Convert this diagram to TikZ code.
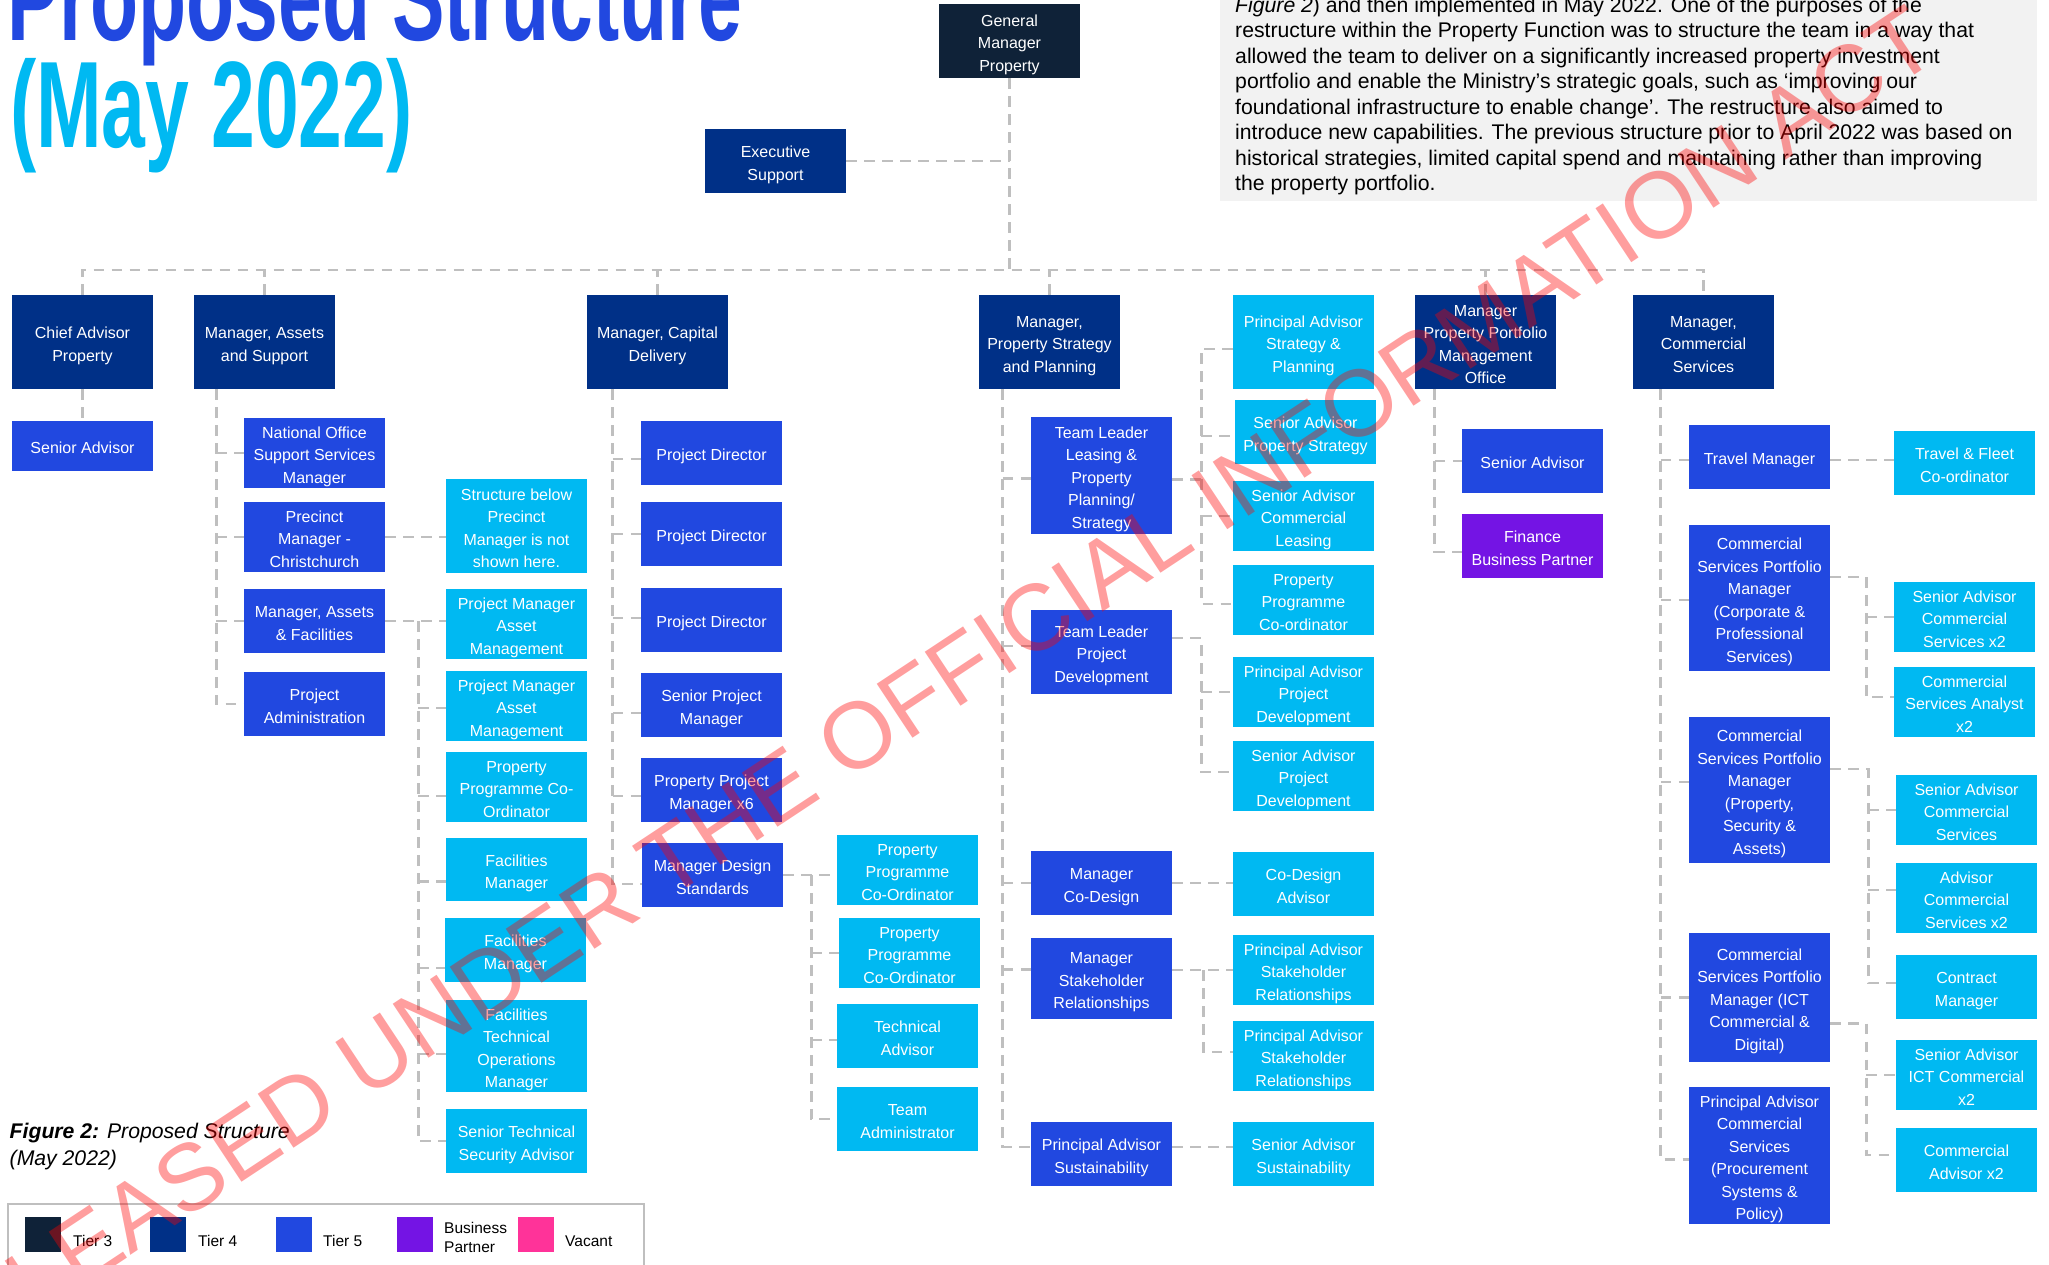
\documentclass[tikz,border=0pt]{standalone}
\usepackage{fontspec}
\setmainfont{Liberation Sans}
\usepackage{graphicx}

\definecolor{tierthree}{HTML}{0F2238}
\definecolor{tierfour}{HTML}{003087}
\definecolor{tierfive}{HTML}{2148E0}
\definecolor{tiercyan}{HTML}{00B9F2}
\definecolor{partner}{HTML}{7414E4}
\definecolor{vacant}{HTML}{FF3399}
\definecolor{linkgray}{HTML}{BFBFBF}
\definecolor{panelgray}{HTML}{F2F2F2}

\pgfdeclarelayer{links}
\pgfsetlayers{links,main}

\newcommand\orgfont{\fontsize{16}{22.5}\selectfont}
\newcommand\parafont{\fontsize{21.2}{25.5}\selectfont}
% struts that keep every label block at the same optical centre
\newcommand\topstrut{\rule{0pt}{20pt}}
\newcommand\botstrut{\rule[-4.5pt]{0pt}{0pt}}
% box: name, style, x1, y1, x2, y2 (pixel frame, y downwards), text
\newcommand\orgbox[7]{\node[#2, minimum width={((#5)-(#3))*1pt}, minimum height={((#6)-(#4))*1pt}] (#1) at ({((#3)+(#5))/2},{((#4)+(#6))/2}) {\topstrut#7\botstrut};}
% horizontal stub from a trunk to a child box
\newcommand\branch[3]{\path ([yshift=#3]#2.west) coordinate (bp#2); \draw[conn] (#1 |- bp#2) -- (bp#2);}
% trunk from its top point down to the last child
\newcommand\trunk[3]{\path ([yshift=#3]#2.west) coordinate (bl#2); \draw[conn] (#1) |- (bl#2);}

\begin{document}
\begin{tikzpicture}[x=1pt, y=-1pt,
  box/.style={inner sep=0pt, align=center, text=white, font=\orgfont},
  tthree/.style={box, fill=tierthree},
  tfour/.style={box, fill=tierfour},
  tfive/.style={box, fill=tierfive},
  tcyan/.style={box, fill=tiercyan},
  tpartner/.style={box, fill=partner},
  conn/.style={draw=linkgray, line width=2.7pt, dash pattern=on 10.5pt off 7.5pt},
  para/.style={anchor=base west, inner sep=0pt, font=\parafont},
  legsq/.style={inner sep=0pt, minimum width=36pt, minimum height=35pt},
  leglab/.style={anchor=base west, inner sep=0pt, font=\fontsize{15.5}{19}\selectfont}]
\useasboundingbox (0,0) rectangle (2049,1264);
\clip (0,0) rectangle (2049,1264);

% ---- text panel and title ----
\fill[panelgray] (1220,-10) rectangle (2037,201);
\node[anchor=base west, inner sep=0pt, text=tierfive] (titleA) at (7,40.7)
  {\scalebox{0.64}[1]{\fontsize{123}{123}\selectfont\bfseries Proposed Structure}};
\node[anchor=base west, inner sep=0pt, text=tiercyan] (titleB) at (10,147.7)
  {\scalebox{0.64}[1]{\fontsize{123}{123}\selectfont\bfseries (May 2022)}};

\node[para] (parA) at (1235,12) {\textit{Figure 2}) and then implemented in May 2022. One of the purposes of the};
\node[para] (parB) at (1235,37.5) {restructure within the Property Function was to structure the team in a way that};
\node[para] (parC) at (1235,63) {allowed the team to deliver on a significantly increased property investment};
\node[para] (parD) at (1235,88.5) {portfolio and enable the Ministry’s strategic goals, such as ‘improving our};
\node[para] (parE) at (1235,114) {foundational infrastructure to enable change’. The restructure also aimed to};
\node[para] (parF) at (1235,139.5) {introduce new capabilities. The previous structure prior to April 2022 was based on};
\node[para] (parG) at (1235,165) {historical strategies, limited capital spend and maintaining rather than improving};
\node[para] (parH) at (1235,190.5) {the property portfolio.};

% ---- boxes ----
\orgbox{gm}{tthree}{939}{4}{1080}{78}{General\\Manager\\Property}
\orgbox{exsup}{tfour}{705}{129}{846}{193}{Executive\\Support}

\orgbox{chief}{tfour}{12}{295}{153}{389}{Chief Advisor\\Property}
\orgbox{mas}{tfour}{194}{295}{335}{389}{Manager, Assets\\and Support}
\orgbox{mcap}{tfour}{587}{295}{728}{389}{Manager, Capital\\Delivery}
\orgbox{mps}{tfour}{979}{295}{1120}{389}{Manager,\\Property Strategy\\and Planning}
\orgbox{pasp}{tcyan}{1233}{295}{1374}{389}{Principal Advisor\\Strategy \&\\Planning}
\orgbox{ppmo}{tfour}{1415}{295}{1556}{389}{Manager\\Property Portfolio\\Management\\Office}
\orgbox{mcs}{tfour}{1633}{295}{1774}{389}{Manager,\\Commercial\\Services}

\orgbox{sadva}{tfive}{12}{421}{153}{471}{Senior Advisor}

\orgbox{noss}{tfive}{244}{421}{385}{485}{National Office\\Support Services\\Manager}
\orgbox{prec}{tfive}{244}{505}{385}{569}{Precinct\\Manager -\\Christchurch}
\orgbox{maf}{tfive}{244}{589}{385}{653}{Manager, Assets\\\& Facilities}
\orgbox{padm}{tfive}{244}{672}{385}{736}{Project\\Administration}
\orgbox{struct}{tcyan}{446}{479}{587}{573}{Structure below\\Precinct\\Manager is not\\shown here.}
\orgbox{pmama}{tcyan}{446}{592}{587}{656}{Project Manager\\Asset\\Management}
\orgbox{pmamb}{tcyan}{446}{674}{587}{738}{Project Manager\\Asset\\Management}
\orgbox{ppco}{tcyan}{446}{755}{587}{819}{Property\\Programme Co-\\Ordinator}
\orgbox{fmone}{tcyan}{446}{838}{587}{901}{Facilities\\Manager}
\orgbox{fmtwo}{tcyan}{445}{918}{586}{982}{Facilities\\Manager}
\orgbox{ftom}{tcyan}{446}{1000}{587}{1092}{Facilities\\Technical\\Operations\\Manager}
\orgbox{stsa}{tcyan}{446}{1109}{587}{1173}{Senior Technical\\Security Advisor}

\orgbox{pdone}{tfive}{641}{421}{782}{485}{Project Director}
\orgbox{pdtwo}{tfive}{641}{502}{782}{566}{Project Director}
\orgbox{pdthree}{tfive}{641}{588}{782}{652}{Project Director}
\orgbox{spm}{tfive}{641}{673}{782}{737}{Senior Project\\Manager}
\orgbox{ppm}{tfive}{641}{758}{782}{822}{Property Project\\Manager x6}
\orgbox{mds}{tfive}{642}{843}{783}{907}{Manager Design\\Standards}
\orgbox{ppcoa}{tcyan}{837}{838}{978}{902}{Property\\Programme\\Co-Ordinator}
\orgbox{ppcob}{tcyan}{839}{921}{980}{985}{Property\\Programme\\Co-Ordinator}
\orgbox{tadv}{tcyan}{837}{1004}{978}{1068}{Technical\\Advisor}
\orgbox{tadm}{tcyan}{837}{1087}{978}{1151}{Team\\Administrator}

\orgbox{tll}{tfive}{1031}{417}{1172}{534}{Team Leader\\Leasing \&\\Property\\Planning/\\Strategy}
\orgbox{tlpd}{tfive}{1031}{610}{1172}{694}{Team Leader\\Project\\Development}
\orgbox{mcod}{tfive}{1031}{851}{1172}{915}{Manager\\Co-Design}
\orgbox{msr}{tfive}{1031}{938}{1172}{1019}{Manager\\Stakeholder\\Relationships}
\orgbox{pas}{tfive}{1031}{1122}{1172}{1186}{Principal Advisor\\Sustainability}
\orgbox{saps}{tcyan}{1235}{400}{1376}{464}{Senior Advisor\\Property Strategy}
\orgbox{sacl}{tcyan}{1233}{484}{1374}{548}{Senior Advisor\\Commercial\\Leasing}
\orgbox{ppcs}{tcyan}{1233}{568}{1374}{632}{Property\\Programme\\Co-ordinator}
\orgbox{papd}{tcyan}{1233}{660}{1374}{724}{Principal Advisor\\Project\\Development}
\orgbox{sapd}{tcyan}{1233}{744}{1374}{808}{Senior Advisor\\Project\\Development}
\orgbox{cda}{tcyan}{1233}{852}{1374}{916}{Co-Design\\Advisor}
\orgbox{pasra}{tcyan}{1233}{938}{1374}{1002}{Principal Advisor\\Stakeholder\\Relationships}
\orgbox{pasrb}{tcyan}{1233}{1024}{1374}{1088}{Principal Advisor\\Stakeholder\\Relationships}
\orgbox{sas}{tcyan}{1233}{1122}{1374}{1186}{Senior Advisor\\Sustainability}

\orgbox{sadvb}{tfive}{1462}{429}{1603}{493}{Senior Advisor}
\orgbox{fbp}{tpartner}{1462}{514}{1603}{578}{Finance\\Business Partner}

\orgbox{tm}{tfive}{1689}{425}{1830}{489}{Travel Manager}
\orgbox{cspma}{tfive}{1689}{525}{1830}{671}{Commercial\\Services Portfolio\\Manager\\(Corporate \&\\Professional\\Services)}
\orgbox{cspmb}{tfive}{1689}{717}{1830}{863}{Commercial\\Services Portfolio\\Manager\\(Property,\\Security \&\\Assets)}
\orgbox{cspmc}{tfive}{1689}{933}{1830}{1062}{Commercial\\Services Portfolio\\Manager (ICT\\Commercial \&\\Digital)}
\orgbox{pacs}{tfive}{1689}{1087}{1830}{1224}{Principal Advisor\\Commercial\\Services\\(Procurement\\Systems \&\\Policy)}
\orgbox{tfc}{tcyan}{1894}{431}{2035}{495}{Travel \& Fleet\\Co-ordinator}
\orgbox{sacsb}{tcyan}{1894}{585}{2035}{649}{Senior Advisor\\Commercial\\Services x2}
\orgbox{csa}{tcyan}{1894}{670}{2035}{734}{Commercial\\Services Analyst\\x2}
\orgbox{sacs}{tcyan}{1896}{778}{2037}{842}{Senior Advisor\\Commercial\\Services}
\orgbox{acs}{tcyan}{1896}{866}{2037}{930}{Advisor\\Commercial\\Services x2}
\orgbox{cm}{tcyan}{1896}{955}{2037}{1019}{Contract\\Manager}
\orgbox{saict}{tcyan}{1896}{1043}{2037}{1107}{Senior Advisor\\ICT Commercial\\x2}
\orgbox{cax}{tcyan}{1896}{1128}{2037}{1192}{Commercial\\Advisor x2}

% ---- connectors (drawn behind the boxes) ----
\begin{pgfonlayer}{links}
\coordinate (bus) at (0,270);
\draw[conn] (gm.south) -- (gm.south |- bus);
\draw[conn] (exsup.east) -- (exsup.east -| gm.south);
\draw[conn] (chief.north) -- (chief.north |- bus) -| (mcs.north);
\foreach \n in {mas,mcap,mps,ppmo} \draw[conn] (\n.north) -- (\n.north |- bus);

\draw[conn] (chief.south) -- (sadva.north);

\coordinate (asT) at ([xshift=22.5pt]mas.south west);
\trunk{asT}{padm}{0pt}
\branch{asT}{noss}{0pt}
\branch{asT}{prec}{0pt}
\branch{asT}{maf}{0pt}
\draw[conn] (prec.east) -- (prec.east -| struct.west);
\draw[conn] (maf.east) -- (maf.east -| pmama.west);
\coordinate (mfT) at ([xshift=33pt]maf.east);
\trunk{mfT}{stsa}{0pt}
\branch{mfT}{pmamb}{-2pt}
\branch{mfT}{ppco}{-9pt}
\branch{mfT}{fmone}{-12pt}
\branch{mfT}{fmtwo}{-18pt}
\branch{mfT}{ftom}{-8pt}

\coordinate (cpT) at ([xshift=26pt]mcap.south west);
\trunk{cpT}{mds}{-9pt}
\branch{cpT}{pdone}{-6pt}
\branch{cpT}{pdtwo}{0pt}
\branch{cpT}{pdthree}{2pt}
\branch{cpT}{spm}{-8pt}
\branch{cpT}{ppm}{-6pt}
\draw[conn] (mds.east) -- (mds.east -| ppcoa.west);
\coordinate (mdT) at ([xshift=28pt]mds.east);
\trunk{mdT}{tadm}{0pt}
\branch{mdT}{ppcob}{0pt}
\branch{mdT}{tadv}{-4pt}

\coordinate (stT) at ([xshift=24pt]mps.south west);
\trunk{stT}{pas}{7pt}
\branch{stT}{tll}{-3pt}
\branch{stT}{tlpd}{6pt}
\branch{stT}{mcod}{0pt}
\branch{stT}{msr}{9pt}
\coordinate (tlR) at ([xshift=29pt,yshift=-4pt]tll.east);
\draw[conn] ([yshift=-4pt]tll.east) -- (tlR);
\draw[conn] ([yshift=-7pt]pasp.west) -| (tlR) |- ([yshift=-4pt]ppcs.west);
\branch{tlR}{saps}{-4pt}
\branch{tlR}{sacl}{0pt}
\coordinate (pdR) at ([xshift=29pt,yshift=14pt]tlpd.east);
\draw[conn] ([yshift=14pt]tlpd.east) -- (pdR) |- ([yshift=4pt]sapd.west);
\branch{pdR}{papd}{0pt}
\draw[conn] (mcod.east) -- (mcod.east -| cda.west);
\draw[conn] (pasra.west -| msr.east) -- (pasra.west);
\coordinate (srR) at ([xshift=-29pt]pasra.west);
\draw[conn] (srR) |- ([yshift=4pt]pasrb.west);
\draw[conn] ([yshift=7pt]pas.east) -- ([yshift=7pt]sas.west);

\coordinate (pmT) at ([xshift=20pt]ppmo.south west);
\trunk{pmT}{fbp}{-6pt}
\branch{pmT}{sadvb}{0pt}

\coordinate (csT) at ([xshift=28pt]mcs.south west);
\trunk{csT}{pacs}{-4pt}
\branch{csT}{tm}{-3pt}
\branch{csT}{cspma}{-2pt}
\branch{csT}{cspmb}{8pt}
\branch{csT}{cspmc}{0pt}
\draw[conn] ([yshift=-3pt]tm.east) -- ([yshift=-3pt]tm.east -| tfc.west);
\coordinate (caR) at ([xshift=36pt,yshift=21pt]cspma.east);
\draw[conn] ([yshift=21pt]cspma.east) -- (caR) |- ([yshift=5pt]csa.west);
\branch{caR}{sacsb}{0pt}
\coordinate (cbR) at ([xshift=38pt,yshift=21pt]cspmb.east);
\draw[conn] ([yshift=21pt]cspmb.east) -- (cbR) |- ([yshift=4pt]cm.west);
\branch{cbR}{sacs}{0pt}
\branch{cbR}{acs}{8pt}
\coordinate (ccR) at ([xshift=36pt,yshift=-26pt]cspmc.east);
\draw[conn] ([yshift=-26pt]cspmc.east) -- (ccR) |- ([yshift=5pt]cax.west);
\branch{ccR}{saict}{0pt}
\end{pgfonlayer}

% ---- caption ----
\node[anchor=base west, inner sep=0pt, font=\parafont] (capA) at (9.5,1138)
  {\textbf{\textit{Figure 2:}} \textit{Proposed Structure}};
\node[anchor=base west, inner sep=0pt, font=\parafont] (capB) at (9.5,1165) {\textit{(May 2022)}};

% ---- legend ----
\draw[draw=linkgray, line width=2pt] (8,1204) rectangle (644,1300);
\node[legsq, fill=tierthree] (lgA) at (43,1234.5) {};
\node[legsq, fill=tierfour] (lgB) at (167.5,1234.5) {};
\node[legsq, fill=tierfive] (lgC) at (294,1234.5) {};
\node[legsq, fill=partner] (lgD) at (415,1234.5) {};
\node[legsq, fill=vacant] (lgE) at (536,1234.5) {};
\node[leglab] (lgtA) at (73,1246) {Tier 3};
\node[leglab] (lgtB) at (198,1246) {Tier 4};
\node[leglab] (lgtC) at (323,1246) {Tier 5};
\node[leglab] (lgtD) at (444,1233) {Business};
\node[leglab] (lgtE) at (444,1252) {Partner};
\node[leglab] (lgtF) at (565,1246) {Vacant};

% ---- release stamp across the page ----
\node[anchor=base west, rotate=33.5, inner sep=0pt, text=red, text opacity=0.38,
      font=\fontsize{94.1}{94.1}\selectfont] (stamp) at (-74.7,1391.7)
  {RELEASED UNDER THE OFFICIAL INFORMATION ACT};
\end{tikzpicture}
\end{document}
